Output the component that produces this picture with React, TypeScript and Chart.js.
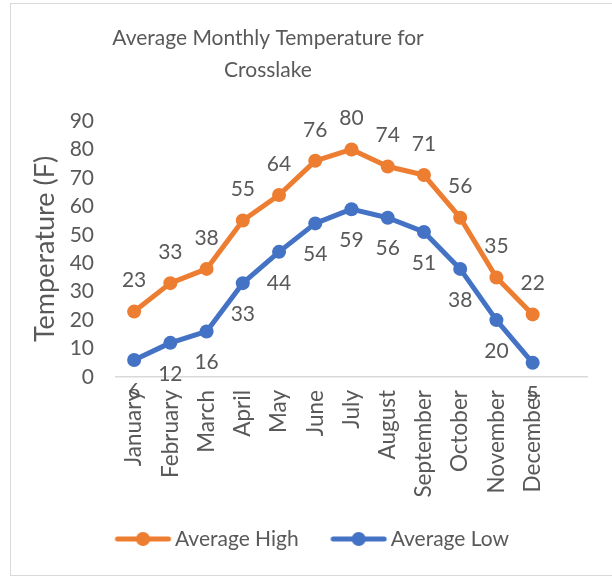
import React, { useEffect, useRef } from 'react';
import { Chart, registerables } from 'chart.js';

Chart.register(...registerables);

const FONT = 'Lato';
const TEXT_COLOR = '#595959';

const months = [
  'January', 'February', 'March', 'April', 'May', 'June',
  'July', 'August', 'September', 'October', 'November', 'December', '',
];
const averageHigh = [23, 33, 38, 55, 64, 76, 80, 74, 71, 56, 35, 22, null];
const averageLow = [6, 12, 16, 33, 44, 54, 59, 56, 51, 38, 20, 5, null];
const seriesNames = ['Average High', 'Average Low'];
const seriesColors = ['#ED7D31', '#4472C4'];
const labelPlacement = ['above', 'below'];
const titleLines = ['Average Monthly Temperature for', 'Crosslake'];
const yAxisTitle = 'Temperature (F)';
const yMin = 0;
const yMax = 90;
const yStep = 10;

function makeSymbol(color: string) {
  const c = document.createElement('canvas');
  c.width = 100;
  c.height = 16;
  const g = c.getContext('2d')!;
  const cx = 60.25;
  g.strokeStyle = color;
  g.lineWidth = 5;
  g.lineCap = 'round';
  g.beginPath();
  g.moveTo(cx - 25.5, 8);
  g.lineTo(cx + 25.5, 8);
  g.stroke();
  g.fillStyle = color;
  g.beginPath();
  g.arc(cx, 8, 7, 0, Math.PI * 2);
  g.fill();
  return c;
}

const borderPlugin = {
  id: 'chartBorder',
  beforeDraw(chart: any) {
    const ctx = chart.ctx;
    ctx.save();
    ctx.fillStyle = '#ffffff';
    ctx.fillRect(0, 0, chart.width, chart.height);
    ctx.strokeStyle = '#D9D9D9';
    ctx.lineWidth = 1;
    ctx.strokeRect(10.5, 3.5, 700, 572);
    ctx.restore();
  },
};

const titlePlugin = {
  id: 'excelTitle',
  afterDraw(chart: any) {
    const ctx = chart.ctx;
    ctx.save();
    ctx.font = `21px ${FONT}`;
    ctx.fillStyle = TEXT_COLOR;
    ctx.textAlign = 'center';
    ctx.textBaseline = 'middle';
    titleLines.forEach((line, i) => {
      ctx.fillText(line, 268, 38 + i * 32);
    });
    ctx.restore();
  },
};

const dataLabelsPlugin = {
  id: 'dataLabels',
  afterDatasetsDraw(chart: any) {
    const ctx = chart.ctx;
    ctx.save();
    ctx.font = `21px ${FONT}`;
    ctx.fillStyle = TEXT_COLOR;
    ctx.textAlign = 'center';
    ctx.textBaseline = 'middle';
    chart.data.datasets.forEach((ds: any, i: number) => {
      const meta = chart.getDatasetMeta(i);
      meta.data.forEach((pt: any, j: number) => {
        const v = ds.data[j];
        if (v == null) return;
        const dy = labelPlacement[i] === 'above' ? -31 : 31;
        ctx.fillText(String(v), pt.x, pt.y + dy);
      });
    });
    ctx.restore();
  },
};

export default function App() {
  const ref = useRef<HTMLCanvasElement>(null);

  useEffect(() => {
    document.body.style.margin = '0';
    const symbols = seriesColors.map(makeSymbol);
    const chart = new Chart(ref.current!, {
      type: 'line',
      data: {
        labels: months,
        datasets: [averageHigh, averageLow].map((d, i) => ({
          label: seriesNames[i],
          data: d,
          borderColor: seriesColors[i],
          backgroundColor: seriesColors[i],
          borderWidth: 5,
          borderJoinStyle: 'round' as const,
          borderCapStyle: 'round' as const,
          pointRadius: 7,
          pointBorderWidth: 0,
          pointBackgroundColor: seriesColors[i],
          tension: 0,
        })),
      },
      options: {
        responsive: false,
        animation: false,
        layout: { padding: { left: 23, right: 25, top: 121, bottom: 17.5 } },
        plugins: {
          title: { display: false },
          tooltip: { enabled: false },
          legend: {
            position: 'bottom',
            labels: {
              usePointStyle: true,
              pointStyleWidth: 63.5,
              padding: 18,
              color: TEXT_COLOR,
              font: { family: FONT, size: 21 },
              generateLabels: (c: any) =>
                c.data.datasets.map((ds: any, i: number) => ({
                  text: ds.label,
                  pointStyle: symbols[i],
                  fillStyle: seriesColors[i],
                  strokeStyle: seriesColors[i],
                  lineWidth: 0,
                  hidden: false,
                  datasetIndex: i,
                  fontColor: TEXT_COLOR,
                })),
            },
          },
        },
        scales: {
          x: {
            offset: true,
            grid: { display: false, drawTicks: false },
            border: { display: true, color: '#D9D9D9', width: 1.5 },
            ticks: {
              autoSkip: false,
              maxRotation: 90,
              minRotation: 90,
              padding: 13,
              color: TEXT_COLOR,
              font: { family: FONT, size: 22.5 },
            },
            afterFit: (s: any) => {
              s.height = 133.5;
            },
          },
          y: {
            min: yMin,
            max: yMax,
            grid: { display: false, drawTicks: false },
            border: { display: false },
            ticks: {
              stepSize: yStep,
              autoSkip: false,
              padding: 22,
              color: TEXT_COLOR,
              font: { family: FONT, size: 21 },
            },
            title: {
              display: true,
              text: yAxisTitle,
              color: TEXT_COLOR,
              font: { family: FONT, size: 27 },
              padding: { top: 5.8, bottom: 0 },
            },
            afterFit: (s: any) => {
              s.width = 93;
            },
          },
        },
      },
      plugins: [borderPlugin, titlePlugin, dataLabelsPlugin],
    });
    return () => chart.destroy();
  }, []);

  return <canvas ref={ref} width={612} height={577} style={{ display: 'block' }} />;
}
